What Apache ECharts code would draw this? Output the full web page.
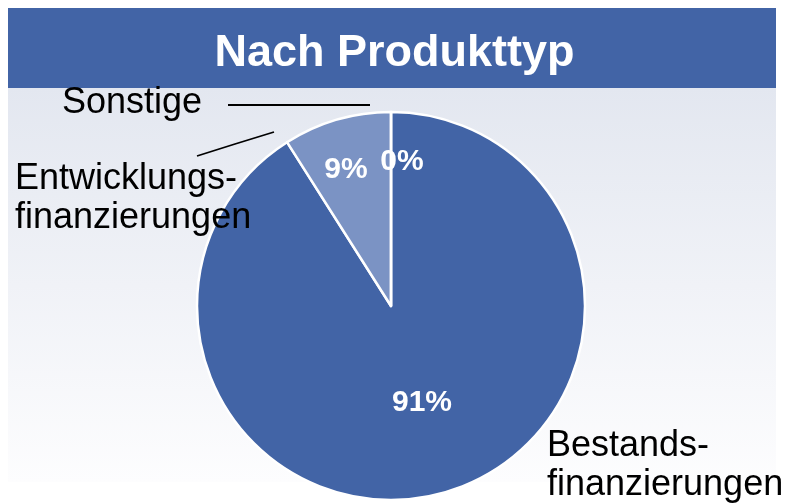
<!DOCTYPE html>
<html lang="de">
  <head>
    <meta charset="utf-8">
    <title>Nach Produkttyp</title>
    <script src="https://cdn.jsdelivr.net/npm/echarts@6/dist/echarts.min.js"></script>
    <style>
      html, body { margin: 0; padding: 0; background: #fff; }
    </style>
  </head>
  <body>
    <div id="main" style="width: 789px; height: 504px"></div>
    <script type="text/javascript">
      // Daten
      var categories = ['Bestands-\nfinanzierungen', 'Entwicklungs-\nfinanzierungen', 'Sonstige'];
      var shares = [91, 9, 0];
      var colors = ['#4264a6', '#7b93c4', '#4264a6'];

      var font = "'Liberation Sans', Arial, sans-serif";

      var pieData = [];
      for (var i = 0; i < categories.length; i++) {
        pieData.push({ name: categories[i], value: shares[i], itemStyle: { color: colors[i] } });
      }

      // Positionen der Prozent-Beschriftungen
      var pctPos = [[422, 403], [346, 170], [402, 162]];
      // Positionen der Namen + Fuehrungslinien
      var namePos = [
        { x: 547, y: 466, line: null },
        { x: 15, y: 199, line: [[274, 132], [235, 144], [197, 156]] },
        { x: 62, y: 103, line: [[370, 105], [299, 105], [228, 105]] }
      ];

      var myChart = echarts.init(document.getElementById('main'));

      var option = {
        animation: false,
        backgroundColor: '#ffffff',
        graphic: [
          {
            type: 'rect', z: 0,
            shape: { x: 8, y: 88, width: 768, height: 394 },
            style: {
              fill: new echarts.graphic.LinearGradient(0, 0, 0, 1, [
                { offset: 0, color: '#e3e7f0' },
                { offset: 1, color: '#fdfdfe' }
              ])
            }
          },
          {
            type: 'rect', z: 0,
            shape: { x: 8, y: 8, width: 768, height: 80 },
            style: { fill: '#4264a6' }
          }
        ],
        title: {
          text: 'Nach Produkttyp',
          left: 'center',
          top: 26,
          z: 10,
          textStyle: { color: '#ffffff', fontSize: 45, fontWeight: 'bold', fontFamily: font, lineHeight: 46 }
        },
        series: [
          {
            type: 'pie',
            center: [391, 306],
            radius: 194,
            startAngle: 90,
            clockwise: true,
            avoidLabelOverlap: false,
            z: 3,
            itemStyle: { borderColor: '#ffffff', borderWidth: 2.5 },
            label: {
              show: true,
              position: 'inside',
              formatter: '{c}%',
              color: '#ffffff',
              fontSize: 30,
              fontWeight: 'bold',
              fontFamily: font
            },
            labelLine: { show: false },
            labelLayout: function (p) {
              var pos = pctPos[p.dataIndex];
              return { x: pos[0], y: pos[1], align: 'center', verticalAlign: 'middle' };
            },
            data: pieData
          },
          {
            type: 'pie',
            center: [391, 306],
            radius: 194,
            startAngle: 90,
            clockwise: true,
            silent: true,
            avoidLabelOverlap: false,
            z: 4,
            itemStyle: { color: 'transparent', borderWidth: 0 },
            label: {
              show: true,
              position: 'outside',
              formatter: '{b}',
              color: '#000000',
              fontSize: 36,
              lineHeight: 39,
              fontFamily: font
            },
            labelLine: { show: true, lineStyle: { color: '#000000', width: 1.8 } },
            labelLayout: function (p) {
              var n = namePos[p.dataIndex];
              var out = { x: n.x, y: n.y, align: 'left', verticalAlign: 'middle' };
              if (n.line) out.labelLinePoints = n.line;
              return out;
            },
            data: categories.map(function (c, i) {
              return {
                name: c,
                value: shares[i],
                labelLine: { show: namePos[i].line != null }
              };
            })
          }
        ]
      };

      myChart.setOption(option);
    </script>
  </body>
</html>
